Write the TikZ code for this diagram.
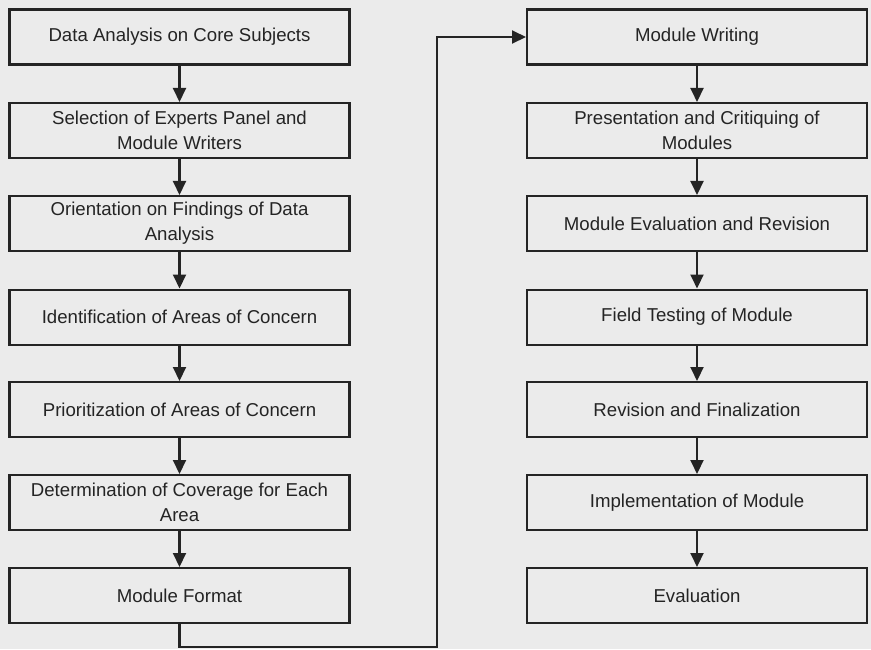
\documentclass[tikz,border=0pt]{standalone}
\usepackage{fontspec}
\setmainfont{Liberation Sans}
\usetikzlibrary{arrows.meta}

\definecolor{paper}{gray}{0.92}
\definecolor{ink}{gray}{0.14}

\tikzset{
	stepbox/.style = {draw = ink, line width = 1.15pt, text = ink,
		minimum width = 6.8cm, minimum height = 1.1cm, inner sep = 2pt,
		align = center, font = \fontsize{10.6}{14.2}\selectfont},
	flow/.style = {draw = ink, line width = 1.15pt, ->}
}

\begin{document}
\begin{tikzpicture}[> = {Triangle[length = 2.8mm, width = 2.6mm]}]

	% Paper
	
	\fill [paper] (0, 0) rectangle (17.42, -12.98);
	\useasboundingbox (0, 0) rectangle (17.42, -12.98);
	
	% Left column: preparation
	
	\node [stepbox] (core)   at (3.59, -0.74)  {Data Analysis on Core Subjects};
	\node [stepbox] (panel)  at (3.59, -2.61)  {Selection of Experts Panel and\\Module Writers};
	\node [stepbox] (orient) at (3.59, -4.47)  {Orientation on Findings of Data\\Analysis};
	\node [stepbox] (ident)  at (3.59, -6.34)  {Identification of Areas of Concern};
	\node [stepbox] (prior)  at (3.59, -8.19)  {Prioritization of Areas of Concern};
	\node [stepbox] (cover)  at (3.59, -10.05) {Determination of Coverage for Each\\Area};
	\node [stepbox] (format) at (3.59, -11.91) {Module Format};
	
	\draw [flow] (core) -- (panel);
	\draw [flow] (panel) -- (orient);
	\draw [flow] (orient) -- (ident);
	\draw [flow] (ident) -- (prior);
	\draw [flow] (prior) -- (cover);
	\draw [flow] (cover) -- (format);
	
	% Right column: writing and testing
	
	\node [stepbox] (write)  at (13.94, -0.74)  {Module Writing};
	\node [stepbox] (critic) at (13.94, -2.61)  {Presentation and Critiquing of\\Modules};
	\node [stepbox] (revise) at (13.94, -4.47)  {Module Evaluation and Revision};
	\node [stepbox] (field)  at (13.94, -6.34)  {Field Testing of Module};
	\node [stepbox] (final)  at (13.94, -8.19)  {Revision and Finalization};
	\node [stepbox] (impl)   at (13.94, -10.05) {Implementation of Module};
	\node [stepbox] (eval)   at (13.94, -11.91) {Evaluation};
	
	\draw [flow] (write) -- (critic);
	\draw [flow] (critic) -- (revise);
	\draw [flow] (revise) -- (field);
	\draw [flow] (field) -- (final);
	\draw [flow] (final) -- (impl);
	\draw [flow] (impl) -- (eval);
	
	% Link between the columns
	
	\coordinate (turn) at (8.74, -12.94);
	\draw [flow] (format.south) |- (turn) |- (write.west);
	
\end{tikzpicture}
\end{document}
